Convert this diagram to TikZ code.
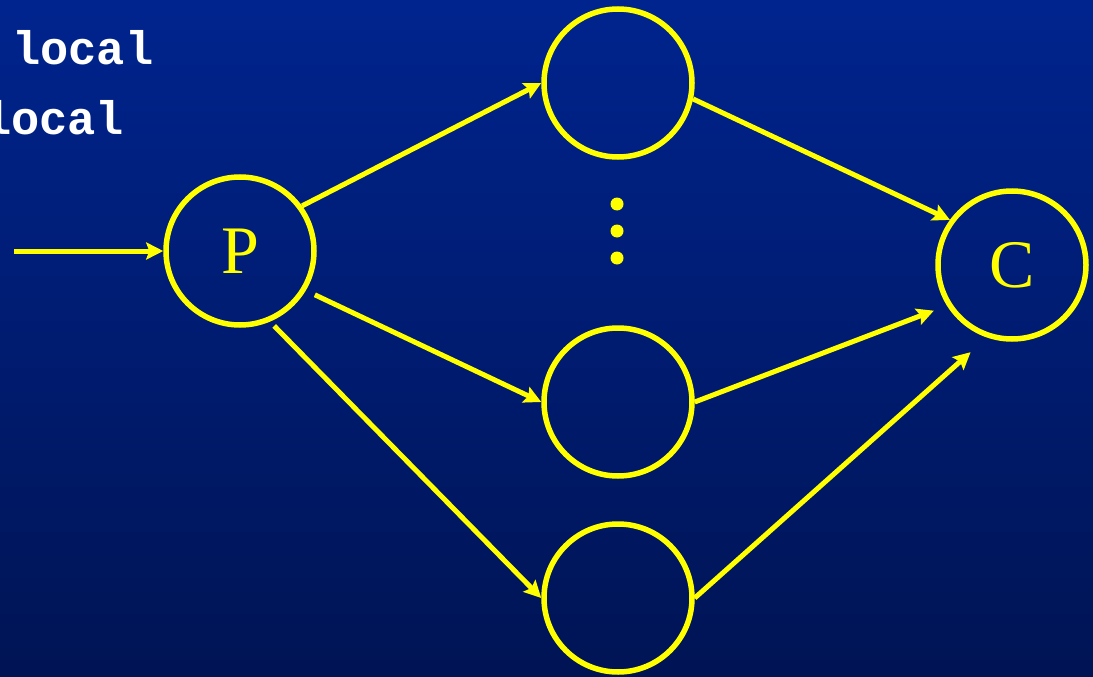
\documentclass[tikz,border=0pt]{standalone}
\usepackage{fontspec}
\setmainfont{Liberation Serif}
\setmonofont{Liberation Mono}
\usetikzlibrary{arrows.meta}
\definecolor{clSlideTop}{RGB}{0,36,142}
\definecolor{clSlideBot}{RGB}{0,20,84}
\definecolor{clLine}{RGB}{255,255,0}
\tikzset{
  proc/.style={circle, draw=clLine, line width=5.5pt, minimum size=148pt,
               inner sep=0pt, text=clLine, font=\fontsize{68}{68}\selectfont},
  flow/.style={-{Stealth[length=17pt, width=17pt, inset=3pt]}, line width=5pt, draw=clLine},
  code/.style={anchor=base west, inner sep=0pt, text=white,
               font=\ttfamily\bfseries\fontsize{47}{47}\selectfont},
  vdot/.style={circle, fill=clLine, inner sep=0pt, minimum size=13pt},
}
\begin{document}
\begin{tikzpicture}[x=1pt, y=-1pt]
  \shade[top color=clSlideTop, bottom color=clSlideBot] (0,0) rectangle (1093,677);
  \useasboundingbox (0,0) rectangle (1093,677);
  \clip (0,0) rectangle (1093,677);
  \node[code] (l1) at (12,65) {local};
  \node[code] (l2) at (-17,135) {local};
  \node[proc] (prod) at (240,251) {P};
  \node[proc] (wtop) at (618,83) {};
  \node[proc] (wmid) at (618,402) {};
  \node[proc] (wbot) at (618,598) {};
  \node[proc] (cons) at (1012,265) {C};
  \foreach \y [count=\i] in {204,231,258} \node[vdot] (dot\i) at (617,\y) {};
  \coordinate (in) at (14,251);
  \draw[flow] (in) -- (prod.west);
  \draw[flow] (prod.36) -- (wtop.180);
  \draw[flow, shorten <=10pt] (prod.-31) -- (wmid.180);
  \draw[flow, shorten <=6pt] (prod.-67) -- (wbot.180);
  \draw[flow] (wtop.-12) -- (cons.144);
  \draw[flow, shorten >=14pt] (wmid.0) -- (cons.212);
  \draw[flow, shorten >=22pt] (wbot.0) -- (cons.251);
\end{tikzpicture}
\end{document}
